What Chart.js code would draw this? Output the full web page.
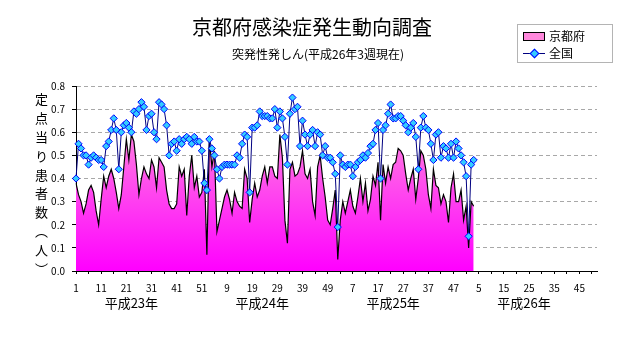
<!DOCTYPE html>
<html>
<head>
<meta charset="utf-8">
<script src="https://cdn.jsdelivr.net/npm/chart.js@4.4.1/dist/chart.umd.min.js"></script>
<style>
  body { margin: 0; background: #fff; font-family: 'Noto Sans CJK JP', sans-serif; }
  #wrap { position: relative; width: 632px; height: 348px; overflow: hidden; }
  #chart { position: absolute; left: 0; top: 0; }
  .title { position: absolute; left: 0; top: 14px; width: 624px; text-align: center; font-size: 20px; line-height: 26px; color: #000; }
  .subtitle { position: absolute; left: 0; top: 45px; width: 636px; text-align: center; font-size: 12px; line-height: 18px; color: #000; }
  .ytitle { position: absolute; left: 32px; top: 93px; writing-mode: vertical-rl; font-size: 13px; letter-spacing: 5.8px; color: #000; }
  .legend { position: absolute; left: 517px; top: 24px; width: 94px; height: 37px; border: 1px solid #b4b4b4; background: #fff; font-size: 12px; }
  .legend .row { position: absolute; left: 5px; height: 16px; line-height: 16px; }
  .legend .swatch { position: absolute; left: 0; top: 4px; width: 20px; height: 7px; border: 1px solid #000; background: #ff88dc; }
  .legend .ln { position: absolute; left: 0; top: 8px; width: 22px; height: 1px; background: #000080; }
  .legend .dot { position: absolute; left: 8px; top: 5px; width: 5px; height: 5px; background: #33ccff; border: 1px solid #0000ff; transform: rotate(45deg); }
  .legend .lbl { position: absolute; left: 26px; top: 0; white-space: nowrap; }
</style>
</head>
<body>
<div id="wrap">
  <canvas id="chart" width="632" height="348"></canvas>
  <div class="title">京都府感染症発生動向調査</div>
  <div class="subtitle">突発性発しん(平成26年3週現在)</div>
  <div class="ytitle">定点当り患者数（人）</div>
  <div class="legend">
    <div class="row" style="top:3px"><div class="swatch"></div><span class="lbl">京都府</span></div>
    <div class="row" style="top:20px"><div class="ln"></div><div class="dot"></div><span class="lbl">全国</span></div>
  </div>
</div>
<script>
// 年ごとの週数と年ラベル
const years = ['平成23年', '平成24年', '平成25年', '平成26年'];
const weeksPerYear = 52;

// 京都府 定点当り患者数
const kyotoH23 = [0.38, 0.33, 0.30, 0.25, 0.29, 0.35, 0.37, 0.34, 0.26, 0.20,
  0.31, 0.41, 0.36, 0.41, 0.44, 0.40, 0.34, 0.27, 0.33, 0.45,
  0.57, 0.48, 0.59, 0.56, 0.46, 0.33, 0.40, 0.45, 0.42, 0.40,
  0.48, 0.45, 0.36, 0.49, 0.47, 0.45, 0.35, 0.29, 0.27, 0.27,
  0.29, 0.45, 0.41, 0.44, 0.24, 0.41, 0.50, 0.36, 0.41, 0.32,
  0.34, 0.44];
const kyotoH24 = [0.07, 0.57, 0.45, 0.52, 0.17, 0.22, 0.27, 0.32, 0.35, 0.31,
  0.25, 0.34, 0.30, 0.28, 0.27, 0.44, 0.40, 0.21, 0.31, 0.38,
  0.32, 0.35, 0.41, 0.45, 0.38, 0.45, 0.45, 0.41, 0.40, 0.59,
  0.49, 0.22, 0.12, 0.44, 0.47, 0.41, 0.42, 0.45, 0.52, 0.42,
  0.40, 0.44, 0.30, 0.24, 0.45, 0.50, 0.40, 0.32, 0.22, 0.20,
  0.27, 0.35];
const kyotoH25 = [0.05, 0.22, 0.30, 0.25, 0.30, 0.35, 0.28, 0.25, 0.32, 0.40,
  0.30, 0.38, 0.26, 0.31, 0.41, 0.37, 0.47, 0.22, 0.46, 0.38,
  0.45, 0.40, 0.46, 0.47, 0.53, 0.52, 0.50, 0.42, 0.35, 0.40,
  0.44, 0.31, 0.40, 0.52, 0.50, 0.44, 0.33, 0.27, 0.44, 0.37,
  0.36, 0.29, 0.33, 0.30, 0.21, 0.36, 0.42, 0.30, 0.30, 0.35,
  0.22, 0.28];
const kyotoH26 = [0.10, 0.30, 0.28];

// 全国 定点当り患者数
const zenkokuH23 = [0.40, 0.55, 0.53, 0.50, 0.50, 0.46, 0.49, 0.50, 0.49, 0.48,
  0.48, 0.45, 0.54, 0.56, 0.61, 0.66, 0.61, 0.44, 0.60, 0.63,
  0.64, 0.62, 0.60, 0.69, 0.68, 0.70, 0.73, 0.71, 0.61, 0.67,
  0.68, 0.60, 0.57, 0.73, 0.72, 0.70, 0.63, 0.50, 0.55, 0.56,
  0.52, 0.57, 0.55, 0.57, 0.58, 0.57, 0.55, 0.58, 0.56, 0.56,
  0.52, 0.38];
const zenkokuH24 = [0.35, 0.57, 0.53, 0.50, 0.44, 0.40, 0.45, 0.46, 0.46, 0.46,
  0.46, 0.46, 0.50, 0.49, 0.55, 0.59, 0.58, 0.34, 0.62, 0.62,
  0.63, 0.69, 0.67, 0.67, 0.67, 0.66, 0.66, 0.70, 0.62, 0.69,
  0.66, 0.58, 0.46, 0.68, 0.75, 0.70, 0.71, 0.54, 0.65, 0.59,
  0.54, 0.59, 0.61, 0.54, 0.60, 0.59, 0.50, 0.54, 0.49, 0.49,
  0.47, 0.42];
const zenkokuH25 = [0.19, 0.50, 0.46, 0.45, 0.46, 0.46, 0.41, 0.45, 0.47, 0.48,
  0.50, 0.49, 0.51, 0.54, 0.55, 0.61, 0.64, 0.40, 0.61, 0.63,
  0.68, 0.72, 0.66, 0.66, 0.67, 0.67, 0.65, 0.63, 0.60, 0.62,
  0.64, 0.58, 0.44, 0.62, 0.67, 0.62, 0.61, 0.55, 0.48, 0.59,
  0.60, 0.49, 0.54, 0.53, 0.49, 0.55, 0.49, 0.56, 0.53, 0.50,
  0.47, 0.41];
const zenkokuH26 = [0.15, 0.46, 0.48];

const yTicks = [0, 0.1, 0.2, 0.3, 0.4, 0.5, 0.6, 0.7, 0.8];

const weekLabels = years.flatMap(() => Array.from({ length: weeksPerYear }, (_, i) => String(i + 1)));
const kyoto = [...kyotoH23, ...kyotoH24, ...kyotoH25, ...kyotoH26];
const zenkoku = [...zenkokuH23, ...zenkokuH24, ...zenkokuH25, ...zenkokuH26];

Chart.defaults.font.family = "'Noto Sans CJK JP', 'Noto Sans', sans-serif";
Chart.defaults.font.size = 10;
Chart.defaults.color = '#000';

function pinkFill(context) {
  const chart = context.chart;
  const area = chart.chartArea;
  if (!area) return '#ff66e0';
  const g = chart.ctx.createLinearGradient(0, area.top, 0, area.bottom);
  g.addColorStop(0, '#ffa6d8');
  g.addColorStop(1, '#ff00ff');
  return g;
}

// 年の見出しを週ラベルの下に描く
const yearLabels = {
  id: 'yearLabels',
  afterDraw(chart) {
    const xs = chart.scales.x;
    const ctx = chart.ctx;
    ctx.save();
    ctx.font = "13px 'Noto Sans CJK JP', sans-serif";
    ctx.fillStyle = '#000';
    ctx.textAlign = 'center';
    ctx.textBaseline = 'middle';
    years.forEach((y, k) => {
      const x = xs.getPixelForValue(k * weeksPerYear + 22);
      ctx.fillText(y, x, 303);
    });
    ctx.restore();
  }
};

new Chart(document.getElementById('chart'), {
  type: 'line',
  data: {
    labels: weekLabels,
    datasets: [
      {
        label: '全国',
        data: zenkoku,
        order: 0,
        borderColor: '#000080',
        borderWidth: 1,
        pointStyle: 'rectRot',
        pointRadius: 3.6,
        pointBackgroundColor: '#33ccff',
        pointBorderColor: '#0000ff',
        pointBorderWidth: 1,
        tension: 0,
        fill: false
      },
      {
        label: '京都府',
        data: kyoto,
        order: 1,
        borderColor: '#000',
        borderWidth: 1.2,
        backgroundColor: pinkFill,
        pointRadius: 0,
        tension: 0,
        fill: 'origin'
      }
    ]
  },
  options: {
    responsive: false,
    animation: false,
    devicePixelRatio: 1,
    layout: { padding: { top: 86, right: 35, left: 0, bottom: 0 } },
    plugins: {
      legend: { display: false },
      tooltip: { enabled: false }
    },
    scales: {
      x: {
        type: 'category',
        offset: false,
        afterFit(s) { s.height = 77; },
        grid: {
          drawOnChartArea: false,
          tickLength: 3,
          tickColor: (c) => (c.index % 5 === 0 ? '#000' : 'rgba(0,0,0,0)')
        },
        border: { color: '#000', width: 1 },
        ticks: {
          autoSkip: false,
          maxRotation: 0,
          minRotation: 0,
          padding: 8,
          font: { size: 10 },
          callback(value, index) {
            return index % 10 === 0 ? this.getLabelForValue(value) : '';
          }
        }
      },
      y: {
        min: 0,
        max: 0.8,
        afterFit(s) { s.width = 76; },
        afterBuildTicks(s) { s.ticks = yTicks.map((v) => ({ value: v })); },
        grid: {
          color: (c) => (c.index === 0 ? 'rgba(0,0,0,0)' : '#a8a8a8'),
          tickColor: '#000',
          tickLength: 4
        },
        border: { color: '#000', width: 1, dash: [4, 3] },
        ticks: {
          padding: 7,
          font: { size: 10 },
          callback: (v) => Number(v).toFixed(1)
        }
      }
    }
  },
  plugins: [yearLabels]
});
</script>
</body>
</html>
